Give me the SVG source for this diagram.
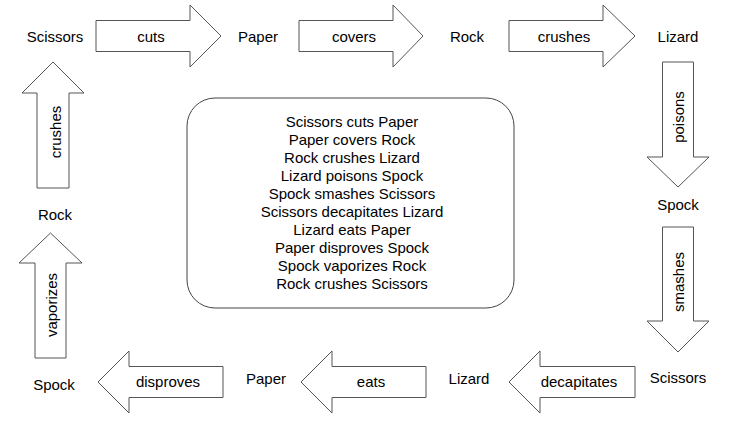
<svg xmlns="http://www.w3.org/2000/svg" width="756" height="436" viewBox="0 0 756 436">
<style>
text{font-family:"Liberation Sans",Arial,sans-serif;font-size:15px;fill:#000;text-anchor:middle}
.arrow{fill:#fff;stroke:#555;stroke-width:1}
.box{fill:#fff;stroke:#444;stroke-width:1}
</style>
<rect width="756" height="436" fill="#fff"/>
<g id="connectors">
<g id="e-cuts"><polygon class="arrow" points="96,20.5 190,20.5 190,5 221,36 190,67 190,51.5 96,51.5"/><text x="151" y="42">cuts</text></g>
<g id="e-covers"><polygon class="arrow" points="299,20.5 393,20.5 393,5 423,36 393,67 393,51.5 299,51.5"/><text x="354" y="42">covers</text></g>
<g id="e-crushes1"><polygon class="arrow" points="509,20.5 603,20.5 603,5 635,36 603,67 603,51.5 509,51.5"/><text x="564" y="42">crushes</text></g>
<g id="e-poisons"><polygon class="arrow" points="662.5,62 693.5,62 693.5,157 709,157 678,187 647,157 662.5,157"/><text transform="translate(683.5,117) rotate(-90)">poisons</text></g>
<g id="e-smashes"><polygon class="arrow" points="662.5,227 693.5,227 693.5,321 709,321 678,352 647,321 662.5,321"/><text transform="translate(684,282) rotate(-90)">smashes</text></g>
<g id="e-decapitates"><polygon class="arrow" points="635,366.5 540,366.5 540,351 509,382 540,413 540,397.5 635,397.5"/><text x="579" y="387">decapitates</text></g>
<g id="e-eats"><polygon class="arrow" points="426,366.5 332,366.5 332,351 301,382 332,413 332,397.5 426,397.5"/><text x="371" y="387">eats</text></g>
<g id="e-disproves"><polygon class="arrow" points="223,366.5 129,366.5 129,351 98,382 129,413 129,397.5 223,397.5"/><text x="168" y="387">disproves</text></g>
<g id="e-vaporizes"><polygon class="arrow" points="35,358 66,358 66,263 82,263 50.5,233 19,263 35,263"/><text transform="translate(57,305) rotate(-90)">vaporizes</text></g>
<g id="e-crushes2"><polygon class="arrow" points="37,188 69,188 69,93 84,93 53,62 22,93 37,93"/><text transform="translate(61,132) rotate(-90)">crushes</text></g>
</g>
<g id="n-scissors1"><text x="55" y="42">Scissors</text></g>
<g id="n-paper1"><text x="258" y="42">Paper</text></g>
<g id="n-rock1"><text x="467" y="42">Rock</text></g>
<g id="n-lizard1"><text x="678" y="42">Lizard</text></g>
<g id="n-spock1"><text x="678" y="210">Spock</text></g>
<g id="n-scissors2"><text x="678" y="383">Scissors</text></g>
<g id="n-lizard2"><text x="469" y="384">Lizard</text></g>
<g id="n-paper2"><text x="266" y="384">Paper</text></g>
<g id="n-spock2"><text x="54" y="390">Spock</text></g>
<g id="n-rock2"><text x="55" y="220">Rock</text></g>
<g id="rules">
<rect class="box" x="187" y="98" width="327" height="210" rx="28" ry="28"/>
<text x="352" y="127">Scissors cuts Paper</text>
<text x="352" y="145">Paper covers Rock</text>
<text x="352" y="163">Rock crushes Lizard</text>
<text x="352" y="181">Lizard poisons Spock</text>
<text x="352" y="199">Spock smashes Scissors</text>
<text x="352" y="217">Scissors decapitates Lizard</text>
<text x="352" y="235">Lizard eats Paper</text>
<text x="352" y="253">Paper disproves Spock</text>
<text x="352" y="271">Spock vaporizes Rock</text>
<text x="352" y="289">Rock crushes Scissors</text>
</g>
</svg>
